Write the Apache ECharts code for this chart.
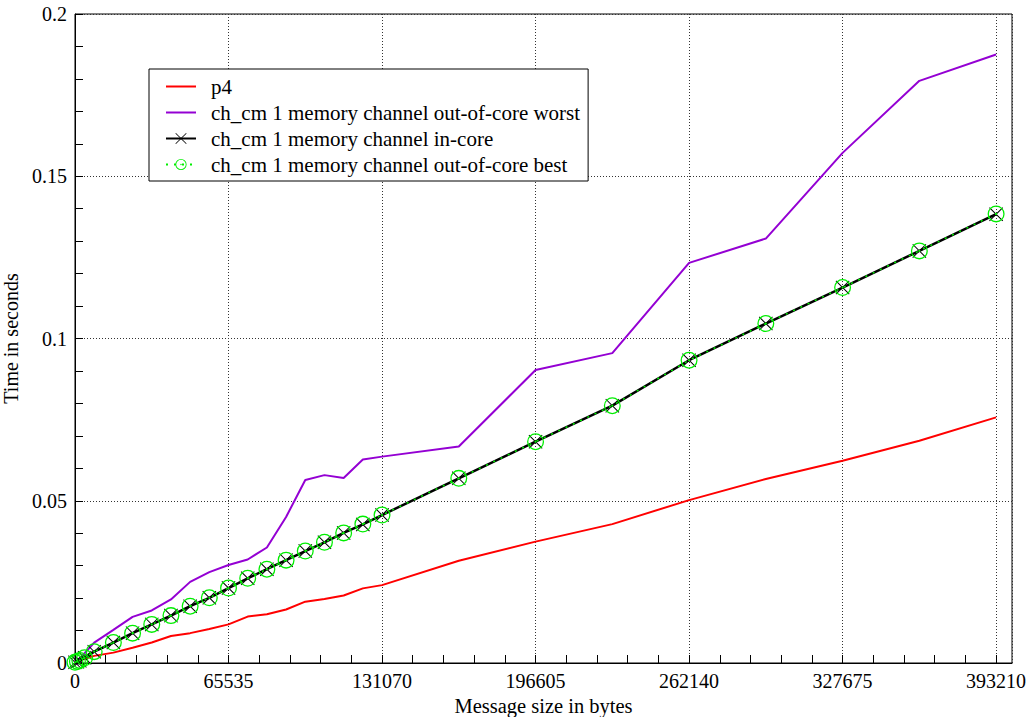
<!DOCTYPE html>
<html><head><meta charset="utf-8">
<script src="https://cdn.jsdelivr.net/npm/echarts@6/dist/echarts.min.js"></script>
<style>html,body{margin:0;padding:0;background:#fff}#c{width:1031px;height:717px}</style>
</head><body><div id="c"></div>
<script>
// ---- data ----
const sizes = [0, 1024, 2048, 4096, 8192, 16384, 24576, 32768, 40960, 49152, 57344, 65536, 73728, 81920, 90112, 98304, 106496, 114688, 122880, 131072, 163840, 196608, 229376, 262144, 294912, 327680, 360448, 393216];
const p4 = [0.0002, 0.0005, 0.0008, 0.0013, 0.0022, 0.0032, 0.0047, 0.0063, 0.0083, 0.0092, 0.0105, 0.0119, 0.0143, 0.0150, 0.0165, 0.0189, 0.0197, 0.0208, 0.0230, 0.0240, 0.0315, 0.0374, 0.0428, 0.0502, 0.0567, 0.0623, 0.0685, 0.0757];
const worst = [0.0002, 0.0008, 0.0014, 0.0030, 0.0063, 0.0102, 0.0142, 0.0162, 0.0196, 0.0250, 0.0280, 0.0302, 0.0319, 0.0356, 0.0450, 0.0564, 0.0579, 0.0570, 0.0627, 0.0636, 0.0667, 0.0903, 0.0955, 0.1233, 0.1308, 0.1572, 0.1794, 0.1875];
const inCore = [0.0002, 0.0004, 0.0007, 0.0016, 0.0035, 0.0063, 0.0092, 0.0119, 0.0146, 0.0175, 0.0201, 0.0231, 0.0261, 0.0289, 0.0317, 0.0345, 0.0372, 0.0401, 0.0427, 0.0456, 0.0569, 0.0682, 0.0793, 0.0933, 0.1046, 0.1157, 0.1270, 0.1383];
const best = [0.0002, 0.0005, 0.0008, 0.0016, 0.0035, 0.0063, 0.0092, 0.0119, 0.0146, 0.0175, 0.0201, 0.0231, 0.0261, 0.0289, 0.0317, 0.0345, 0.0372, 0.0401, 0.0428, 0.0456, 0.0569, 0.0682, 0.0793, 0.0933, 0.1046, 0.1157, 0.1270, 0.1384];
const seriesNames = ['p4', 'ch_cm 1 memory channel out-of-core worst', 'ch_cm 1 memory channel in-core', 'ch_cm 1 memory channel out-of-core best'];
const xMajorTicks = [0, 65535, 131070, 196605, 262140, 327675, 393210];
const yMajorTicks = [0, 0.05, 0.1, 0.15, 0.2];
const yMajorLabels = ['0', '0.05', '0.1', '0.15', '0.2'];
const xName = 'Message size in bytes';
const yName = 'Time in seconds';

const pairs = arr => sizes.map((s, i) => [s, arr[i]]);
const FONT = 'Liberation Serif';
const crossPath = 'path://M0,1 L1,0 L20,19 L19,20 Z M19,0 L20,1 L1,20 L0,19 Z';
const ringPath = 'path://M20,10 A10,10 0 1,1 0,10 A10,10 0 1,1 20,10 Z M18.5,10 A8.5,8.5 0 1,0 1.5,10 A8.5,8.5 0 1,0 18.5,10 Z M11.3,10 A1.3,1.3 0 1,1 8.7,10 A1.3,1.3 0 1,1 11.3,10 Z';
const lineIcon = 'path://M0,0 L30,0 L30,2 L0,2 Z';
const gridLine = { show: true, lineStyle: { color: '#333', width: 1, type: [1, 2] } };

const chart = echarts.init(document.getElementById('c'), null, { renderer: 'svg' });
chart.setOption({
  animation: false,
  backgroundColor: '#fff',
  grid: { left: 75, right: 19, top: 14, bottom: 54, show: true, borderColor: '#000', borderWidth: 1, backgroundColor: 'transparent', outerBoundsMode: 'none' },
  legend: {
    orient: 'vertical', left: 149, top: 69,
    padding: [7, 8, 6, 16], itemGap: 5, itemWidth: 30, itemHeight: 14,
    backgroundColor: '#fff', borderColor: '#000', borderWidth: 1, borderRadius: 0,
    textStyle: { fontFamily: FONT, fontSize: 21, color: '#000', padding: [0, 0, 0, 10] },
    data: [
      { name: seriesNames[0], icon: lineIcon, itemStyle: { color: '#ff0000' } },
      { name: seriesNames[1], icon: lineIcon, itemStyle: { color: '#9400d3' } },
      { name: seriesNames[2] },
      { name: seriesNames[3] }
    ]
  },
  xAxis: [
    {
      type: 'value', min: 0, max: 400000, interval: 13107,
      name: xName, nameLocation: 'middle', nameGap: 28,
      nameTextStyle: { fontFamily: FONT, fontSize: 20.5, color: '#000' },
      axisLine: { show: true, onZero: false, lineStyle: { color: '#000', width: 1 } },
      axisTick: { show: true, inside: true, length: 8, lineStyle: { color: '#000' } },
      axisLabel: {
        margin: 8, fontFamily: FONT, fontSize: 20, color: '#000', showMaxLabel: false, hideOverlap: false,
        formatter: v => (xMajorTicks.indexOf(Math.round(v)) >= 0 ? String(Math.round(v)) : '')
      },
      splitLine: { show: false }
    },
    {
      type: 'value', min: 0, max: 400000, interval: 65535, position: 'bottom',
      axisLine: { show: false }, axisTick: { show: false }, axisLabel: { show: false },
      splitLine: gridLine
    }
  ],
  yAxis: [
    {
      type: 'value', min: 0, max: 0.2, interval: 0.01,
      name: yName, nameLocation: 'middle', nameGap: 42, nameRotate: 90,
      nameTextStyle: { fontFamily: FONT, fontSize: 20, color: '#000' },
      axisLine: { show: true, onZero: false, lineStyle: { color: '#000', width: 1 } },
      axisTick: { show: true, inside: true, length: 8, lineStyle: { color: '#000' } },
      axisLabel: {
        margin: 8, fontFamily: FONT, fontSize: 20, color: '#000', hideOverlap: false,
        formatter: v => {
          for (let i = 0; i < yMajorTicks.length; i++) if (Math.abs(v - yMajorTicks[i]) < 1e-9) return yMajorLabels[i];
          return '';
        }
      },
      splitLine: { show: false }
    },
    {
      type: 'value', min: 0, max: 0.2, interval: 0.05, position: 'left',
      axisLine: { show: false }, axisTick: { show: false }, axisLabel: { show: false },
      splitLine: gridLine
    }
  ],
  series: [
    {
      name: seriesNames[0], type: 'line', data: pairs(p4), showSymbol: false, symbol: 'none',
      lineStyle: { color: '#ff0000', width: 2 }, itemStyle: { color: '#ff0000' }, z: 3
    },
    {
      name: seriesNames[1], type: 'line', data: pairs(worst), showSymbol: false, symbol: 'none',
      lineStyle: { color: '#9400d3', width: 2 }, itemStyle: { color: '#9400d3' }, z: 3
    },
    {
      name: seriesNames[2], type: 'line', data: pairs(inCore),
      symbol: crossPath, symbolSize: 14, showAllSymbol: true,
      lineStyle: { color: '#000', width: 2.5 }, itemStyle: { color: '#000', borderWidth: 0 }, z: 4
    },
    {
      name: seriesNames[3], type: 'line', data: pairs(best),
      symbol: ringPath, symbolSize: 17, showAllSymbol: true,
      lineStyle: { color: '#00ee00', width: 1.5, type: [2, 6] }, itemStyle: { color: '#00ee00', borderWidth: 0 }, z: 5
    }
  ]
});
</script>
</body></html>
